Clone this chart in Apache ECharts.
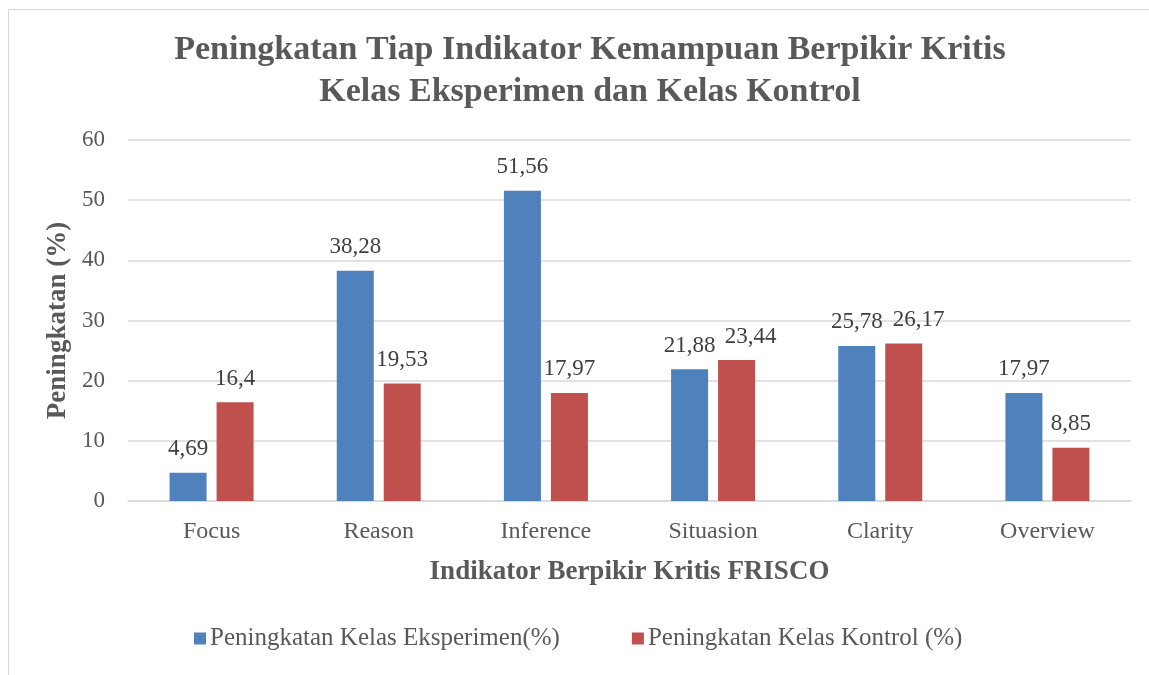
<!DOCTYPE html>
<html><head><meta charset="utf-8">
<script src="https://cdn.jsdelivr.net/npm/echarts@6/dist/echarts.min.js"></script>
<style>html,body{margin:0;padding:0;background:#fff}#c{width:1149px;height:675px}</style>
</head><body><div id="c"></div>
<script>
const categories = ['Focus','Reason','Inference','Situasion','Clarity','Overview'];
const eksperimen = [4.69, 38.28, 51.56, 21.88, 25.78, 17.97];
const kontrol = [16.4, 19.53, 17.97, 23.44, 26.17, 8.85];
const yTicks = {min: 0, max: 60, interval: 10};

const serif = '"Liberation Serif", "DejaVu Serif", serif';
const fmt = p => String(p.value).replace('.', ',');
// labels nudged right where they would collide (as in the reference)
const kontrolLabelShift = {3: 14, 4: 15};
const kontrolData = kontrol.map((v, i) => kontrolLabelShift[i]
  ? {value: v, label: {offset: [kontrolLabelShift[i], 0]}} : v);
const chart = echarts.init(document.getElementById('c'));
chart.setOption({
  animation: false,
  backgroundColor: '#fff',
  textStyle: {fontFamily: serif},
  graphic: [{type: 'rect', shape: {x: 8.5, y: 9.5, width: 1200, height: 800},
    style: {fill: 'none', stroke: '#D9D9D9', lineWidth: 1}}],
  title: {
    text: 'Peningkatan Tiap Indikator Kemampuan Berpikir Kritis\nKelas Eksperimen dan Kelas Kontrol',
    left: 585, textAlign: 'center', top: 24,
    textStyle: {fontFamily: serif, fontWeight: 'bold', fontSize: 34, color: '#595959', lineHeight: 42}
  },
  legend: {
    bottom: 19, left: 189, itemWidth: 12, itemHeight: 12, itemGap: 72,
    icon: 'rect',
    textStyle: {fontFamily: serif, fontSize: 25, color: '#595959', padding: [0, 0, 0, -1]}
  },
  grid: {left: 128, right: 18, top: 140, bottom: 174},
  xAxis: {
    type: 'category', data: categories,
    name: 'Indikator Berpikir Kritis FRISCO', nameLocation: 'middle', nameGap: 58,
    nameTextStyle: {fontFamily: serif, fontWeight: 'bold', fontSize: 27, color: '#595959'},
    axisLine: {lineStyle: {color: '#D9D9D9', width: 1.5}},
    axisTick: {show: false},
    axisLabel: {fontFamily: serif, fontSize: 24, color: '#595959', margin: 19}
  },
  yAxis: {
    type: 'value', min: yTicks.min, max: yTicks.max, interval: yTicks.interval,
    name: 'Peningkatan (%)', nameLocation: 'middle', nameGap: 55,
    nameTextStyle: {fontFamily: serif, fontWeight: 'bold', fontSize: 27, color: '#595959'},
    axisLabel: {fontFamily: serif, fontSize: 23, color: '#595959', margin: 23},
    splitLine: {lineStyle: {color: '#D9D9D9', width: 1.5}},
    axisLine: {show: false}, axisTick: {show: false}
  },
  series: [
    {name: 'Peningkatan Kelas Eksperimen(%)', type: 'bar', data: eksperimen, barWidth: 37, barGap: '27%',
     itemStyle: {color: '#4F81BD'},
     label: {show: true, position: 'top', distance: 12, formatter: fmt, fontFamily: serif, fontSize: 23, color: '#404040'}},
    {name: 'Peningkatan Kelas Kontrol (%)', type: 'bar', data: kontrolData, barWidth: 37,
     itemStyle: {color: '#C0504D'},
     label: {show: true, position: 'top', distance: 12, formatter: fmt, fontFamily: serif, fontSize: 23, color: '#404040'}}
  ]
});
</script></body></html>
